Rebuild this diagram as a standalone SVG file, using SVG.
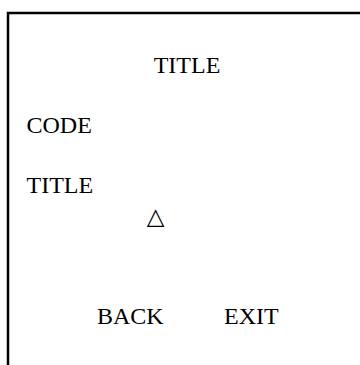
<svg xmlns="http://www.w3.org/2000/svg" width="360" height="365" viewBox="0 0 360 365">
<style>
.t{font-family:"Liberation Serif","Times New Roman",serif;font-size:24px;fill:#000}
.sym{font-family:"DejaVu Sans",sans-serif;font-size:23px;fill:#000}
</style>
<rect width="360" height="365" fill="#fff"/>
<g id="frame"><path d="M8 365V13H360" fill="none" stroke="#000" stroke-width="2.5"/></g>
<g id="title"><text class="t" x="187" y="73" text-anchor="middle">TITLE</text></g>
<g id="code"><text class="t" x="26.5" y="133">CODE</text></g>
<g id="title2"><text class="t" x="26.5" y="193">TITLE</text></g>
<g id="mark"><text class="sym" x="155.5" y="223.5" text-anchor="middle">△</text></g>
<g id="back"><text class="t" x="97" y="324">BACK</text></g>
<g id="exit"><text class="t" x="224" y="324">EXIT</text></g>
<g id="connectors"></g>
</svg>
